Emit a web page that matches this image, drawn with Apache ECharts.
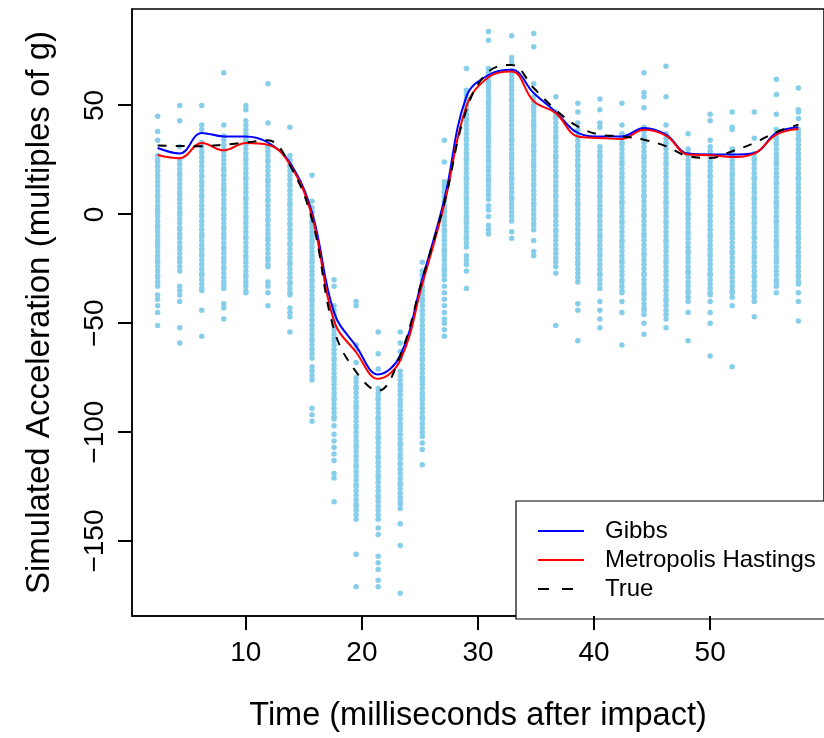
<!DOCTYPE html>
<html>
<head>
<meta charset="utf-8">
<script src="https://cdn.jsdelivr.net/npm/echarts@6/dist/echarts.min.js"></script>
<style>html,body{margin:0;padding:0;background:#fff;}#chart{width:824px;height:738px;}</style>
</head>
<body>
<div id="chart"></div>
<script>
// Time points (ms after impact)
const times = [2.4, 4.3, 6.2, 8.1, 10.0, 11.9, 13.8, 15.7, 17.6, 19.5, 21.4, 23.3, 25.2, 27.1, 29.0, 30.9, 32.9, 34.8, 36.7, 38.6, 40.5, 42.4, 44.3, 46.2, 48.1, 50.0, 51.9, 53.8, 55.7, 57.6];

// Simulated accelerations at each time point
const accel = [
  [45,38,34,27,25,24,22,20,18,17,15,13,11,9,8,6,4,2,1,-1,-3,-5,-6,-8,-10,-12,-13,-15,-17,-19,-21,-22,-24,-26,-28,-29,-31,-33,-37,-39,-42,-45,-51],
  [50,43,31,25,23,21,19,18,16,14,12,10,9,7,5,3,1,0,-2,-4,-6,-7,-9,-11,-13,-15,-16,-18,-20,-22,-24,-26,-33,-35,-37,-40,-52,-59],
  [50,41,39,33,31,29,28,26,24,22,20,18,17,15,13,11,9,8,6,4,2,0,-1,-3,-5,-7,-9,-10,-12,-14,-16,-18,-19,-21,-23,-25,-27,-28,-30,-32,-34,-35,-44,-56],
  [65,41,36,34,32,30,29,27,25,23,21,20,18,16,14,12,11,9,7,5,3,2,0,-2,-4,-6,-7,-9,-11,-13,-15,-16,-18,-20,-22,-24,-25,-27,-29,-31,-33,-34,-41,-43,-48],
  [50,48,43,41,39,37,35,34,32,30,28,26,25,23,21,19,17,16,14,12,10,8,7,5,3,1,-1,-2,-4,-6,-8,-10,-11,-13,-15,-17,-19,-20,-22,-24,-26,-28,-29,-31,-33,-35,-36],
  [60,42,31,29,27,25,24,22,20,18,16,15,13,11,9,7,6,4,2,0,-2,-3,-5,-7,-9,-11,-12,-14,-16,-18,-20,-21,-23,-24,-31,-33,-36,-42],
  [40,27,25,23,22,20,18,16,14,13,11,9,7,5,4,2,0,-2,-4,-5,-7,-9,-11,-13,-14,-16,-18,-20,-22,-23,-25,-27,-29,-31,-32,-34,-36,-37,-43,-45,-47,-54],
  [18,6,3,1,-1,-3,-4,-6,-8,-10,-12,-13,-15,-17,-19,-21,-22,-24,-26,-28,-30,-31,-33,-35,-37,-39,-40,-42,-44,-46,-48,-49,-51,-53,-55,-57,-58,-60,-62,-64,-66,-70,-72,-74,-76,-89,-92,-95],
  [-30,-33,-42,-44,-46,-48,-49,-51,-53,-55,-57,-58,-60,-62,-64,-66,-67,-69,-71,-73,-75,-76,-78,-80,-82,-84,-85,-87,-89,-91,-93,-94,-97,-101,-104,-107,-110,-113,-119,-121,-132],
  [-40,-42,-60,-62,-68,-75,-77,-79,-80,-82,-84,-86,-88,-89,-91,-93,-95,-97,-98,-100,-102,-104,-106,-107,-109,-111,-113,-115,-116,-118,-120,-122,-124,-125,-127,-129,-131,-133,-134,-136,-138,-140,-156,-171],
  [-54,-64,-71,-80,-82,-84,-85,-87,-89,-91,-93,-94,-96,-98,-100,-102,-103,-105,-107,-109,-111,-112,-114,-116,-118,-120,-121,-123,-125,-127,-129,-130,-132,-134,-136,-138,-140,-144,-147,-157,-160,-163,-168,-171],
  [-54,-59,-63,-66,-72,-74,-76,-78,-79,-81,-83,-85,-87,-88,-90,-92,-94,-96,-97,-99,-101,-103,-105,-106,-108,-110,-112,-114,-115,-117,-119,-121,-123,-124,-126,-128,-130,-132,-133,-135,-142,-152,-174],
  [-22,-26,-28,-30,-31,-33,-35,-37,-39,-40,-42,-44,-46,-48,-49,-51,-53,-55,-57,-58,-60,-62,-64,-66,-67,-69,-71,-73,-75,-76,-78,-80,-82,-84,-85,-87,-89,-91,-93,-94,-96,-98,-100,-102,-105,-108,-115],
  [34,24,15,13,11,10,8,6,4,2,1,-1,-3,-5,-7,-8,-10,-12,-14,-16,-17,-19,-21,-23,-25,-26,-28,-30,-33,-36,-39,-42,-45,-48,-50,-53,-56],
  [67,57,55,53,52,50,48,46,44,43,41,39,37,35,34,32,30,28,26,25,23,21,19,17,16,14,12,10,8,7,5,3,1,-1,-2,-4,-6,-8,-10,-11,-13,-15,-19,-21,-23,-26,-34],
  [84,80,67,65,63,61,60,58,56,54,52,51,49,47,45,43,42,40,38,36,34,33,31,29,27,25,24,22,20,18,16,15,13,11,9,7,4,2,-1,-5,-7,-9],
  [82,72,70,66,64,62,61,59,57,55,53,52,50,48,46,44,43,41,39,37,35,34,32,30,28,26,25,23,21,19,17,16,14,12,10,8,7,5,3,1,-1,-3,-8,-11],
  [83,77,60,54,52,50,49,47,45,43,41,40,38,36,34,32,31,29,27,25,23,22,20,18,16,14,13,11,9,7,5,4,2,0,-2,-4,-5,-7,-12,-17,-19],
  [54,47,45,44,42,40,38,36,35,33,31,29,27,26,24,22,20,18,17,15,13,11,9,8,6,4,2,0,-1,-3,-5,-7,-8,-10,-12,-14,-16,-18,-20,-22,-24,-27,-51],
  [51,47,42,39,36,34,32,31,29,27,25,23,22,20,18,16,14,13,11,9,7,5,4,2,0,-2,-4,-5,-7,-9,-11,-13,-14,-16,-18,-20,-22,-23,-25,-27,-29,-31,-41,-44,-58],
  [53,48,42,40,31,29,27,26,24,22,20,18,17,15,13,11,9,8,6,4,2,0,-1,-3,-5,-7,-9,-10,-12,-14,-16,-18,-19,-21,-23,-25,-27,-28,-30,-32,-34,-40,-44,-48,-52],
  [51,41,37,35,33,32,30,28,26,24,23,21,19,17,15,14,12,10,8,6,5,3,1,-1,-3,-4,-6,-8,-10,-12,-13,-15,-17,-19,-21,-22,-24,-26,-28,-30,-31,-33,-35,-36,-40,-45,-60],
  [65,56,54,49,40,38,36,35,33,31,29,27,26,24,22,20,18,17,15,13,11,9,8,6,4,2,0,-1,-3,-5,-7,-9,-10,-12,-14,-16,-18,-19,-21,-23,-25,-27,-28,-30,-32,-34,-36,-37,-39,-41,-43,-44,-46,-50,-55],
  [68,54,41,37,35,33,32,30,28,26,24,23,21,19,17,15,14,12,10,8,6,5,3,1,-1,-3,-4,-6,-8,-10,-12,-13,-15,-17,-19,-21,-22,-24,-26,-28,-30,-31,-33,-35,-37,-39,-40,-42,-44,-46,-48,-52],
  [37,30,28,27,25,23,21,19,18,16,14,12,10,9,7,5,3,1,0,-2,-4,-6,-8,-9,-11,-13,-15,-17,-18,-20,-22,-24,-26,-27,-29,-31,-33,-35,-36,-38,-40,-45,-58],
  [46,43,34,31,29,27,26,24,22,20,18,17,15,13,11,9,8,6,4,2,0,-1,-3,-5,-7,-9,-10,-12,-14,-16,-18,-19,-21,-23,-25,-27,-28,-30,-32,-34,-36,-37,-40,-45,-50,-65],
  [47,40,39,30,28,27,25,23,21,19,18,16,14,12,10,9,7,5,3,1,0,-2,-4,-6,-8,-9,-11,-13,-15,-17,-18,-20,-22,-24,-26,-27,-29,-31,-33,-35,-36,-38,-42,-70],
  [47,35,28,26,25,23,21,19,17,16,14,12,10,8,7,5,3,1,-1,-2,-4,-6,-8,-10,-11,-13,-15,-17,-19,-20,-22,-24,-26,-28,-29,-31,-33,-35,-37,-38,-40,-47],
  [62,55,46,39,37,35,33,32,30,28,26,24,23,21,19,17,15,14,12,10,8,6,5,3,1,-1,-3,-4,-6,-8,-10,-12,-13,-15,-17,-19,-21,-22,-24,-26,-28,-30,-31,-33,-36],
  [58,48,47,44,39,37,35,34,32,30,28,26,25,23,21,19,17,16,14,12,10,8,7,5,3,1,-1,-2,-4,-6,-8,-10,-11,-13,-15,-17,-19,-20,-22,-24,-26,-28,-29,-31,-32,-36,-40,-49]
];

// Fitted curves at each time point
const gibbs = [30.5, 28.0, 37.4, 35.8, 35.8, 33.0, 23.7, 0.9, -45.0, -60.5, -73.5, -64.8, -29.7, 6.9, 54.1, 64.0, 66.4, 55.7, 47.0, 37.4, 35.8, 35.8, 39.7, 36.6, 27.9, 27.5, 27.5, 28.2, 37.4, 40.0];
const metropolis = [27.3, 25.8, 32.8, 29.4, 32.8, 32.0, 22.9, -0.8, -49.0, -63.3, -75.5, -67.0, -32.0, 4.6, 49.6, 63.0, 65.6, 51.9, 46.5, 35.8, 35.1, 34.6, 38.9, 36.2, 27.5, 27.2, 26.4, 27.9, 36.6, 39.2];
const trueCurve = [31.6, 31.4, 31.3, 32.0, 33.0, 34.0, 22.5, -2.3, -53.0, -72.3, -81.0, -64.8, -29.7, 5.3, 48.0, 65.5, 68.6, 58.0, 48.0, 40.4, 36.6, 35.8, 34.3, 31.3, 26.7, 25.9, 29.0, 32.8, 37.8, 41.2];

const xTicks = [10, 20, 30, 40, 50];
const yTicks = [-150, -100, -50, 0, 50];

const X_MIN = 0.192, X_MAX = 59.808, Y_MIN = -184.4, Y_MAX = 94.3;

const points = [];
times.forEach((t, i) => accel[i].forEach(v => points.push([t, v])));
const pair = arr => times.map((t, i) => [t, arr[i]]);
const minus = v => String(v).replace('-', '\u2212');
const FONT = 'Liberation Sans, Arial, Helvetica, sans-serif';
const TICK = 14;

const chart = echarts.init(document.getElementById('chart'), null, {renderer: 'canvas'});
chart.setOption({
  animation: false,
  grid: {left: 132, top: 9, width: 697, height: 609, show: true, borderColor: '#000', borderWidth: 1.5},
  xAxis: {
    type: 'value', min: X_MIN, max: X_MAX,
    axisLine: {onZero: false, lineStyle: {color: '#000', width: 1.5}},
    splitLine: {show: false},
    axisTick: {show: false},
    axisLabel: {customValues: xTicks, fontSize: 28, color: '#000', fontFamily: FONT, margin: 23, formatter: minus},
    name: 'Time (milliseconds after impact)', nameLocation: 'middle', nameGap: 84,
    nameTextStyle: {fontSize: 32.5, color: '#000', fontFamily: FONT}
  },
  yAxis: {
    type: 'value', min: Y_MIN, max: Y_MAX,
    axisLine: {onZero: false, lineStyle: {color: '#000', width: 1.5}},
    splitLine: {show: false},
    axisTick: {show: false},
    axisLabel: {customValues: yTicks, rotate: 90, fontSize: 28, color: '#000', fontFamily: FONT, margin: 23, formatter: minus},
    name: 'Simulated Acceleration (multiples of g)', nameLocation: 'middle', nameGap: 76, nameRotate: 90,
    nameTextStyle: {fontSize: 33, color: '#000', fontFamily: FONT}
  },
  legend: {
    orient: 'vertical', left: 516, top: 501,
    padding: [18, 120, 18, 21], itemGap: 5,
    itemWidth: 46, itemHeight: 14,
    borderColor: '#000', borderWidth: 1.2, backgroundColor: '#fff',
    itemStyle: {opacity: 0},
    textStyle: {fontSize: 24, color: '#000', fontFamily: FONT, padding: [0, 0, 0, 16]},
    data: ['Gibbs', 'Metropolis Hastings', {name: 'True', lineStyle: {type: [11, 13]}}]
  },
  series: [
    {type: 'scatter', name: 'data', data: points, symbolSize: 5.5, itemStyle: {color: '#87CEEB', opacity: 1}, silent: true, z: 1},
    {type: 'line', name: 'Gibbs', data: pair(gibbs), smooth: 0.4, symbol: 'none', lineStyle: {color: '#0000FF', width: 2}, itemStyle: {color: '#0000FF'}, z: 2},
    {type: 'line', name: 'Metropolis Hastings', data: pair(metropolis), smooth: 0.4, symbol: 'none', lineStyle: {color: '#FF0000', width: 2}, itemStyle: {color: '#FF0000'}, z: 3},
    {type: 'line', name: 'True', data: pair(trueCurve), smooth: 0.4, symbol: 'none', lineStyle: {color: '#000', width: 2, type: [9, 9]}, itemStyle: {color: '#000'}, z: 4}
  ]
});

// Tick marks, placed through the chart's own axis scales (drawn as thin rectangles)
const els = [];
xTicks.forEach(v => {
  const p = chart.convertToPixel({xAxisIndex: 0, yAxisIndex: 0}, [v, Y_MIN]);
  els.push({type: 'rect', shape: {x: Math.round(p[0]) - 1, y: Math.round(p[1]), width: 2, height: TICK}, style: {fill: '#000'}, z: 100});
});
yTicks.forEach(v => {
  const p = chart.convertToPixel({xAxisIndex: 0, yAxisIndex: 0}, [X_MIN, v]);
  els.push({type: 'rect', shape: {x: Math.round(p[0]) - TICK, y: Math.round(p[1]) - 1, width: TICK, height: 2}, style: {fill: '#000'}, z: 100});
});
chart.setOption({graphic: {elements: els}});
</script>
</body>
</html>
